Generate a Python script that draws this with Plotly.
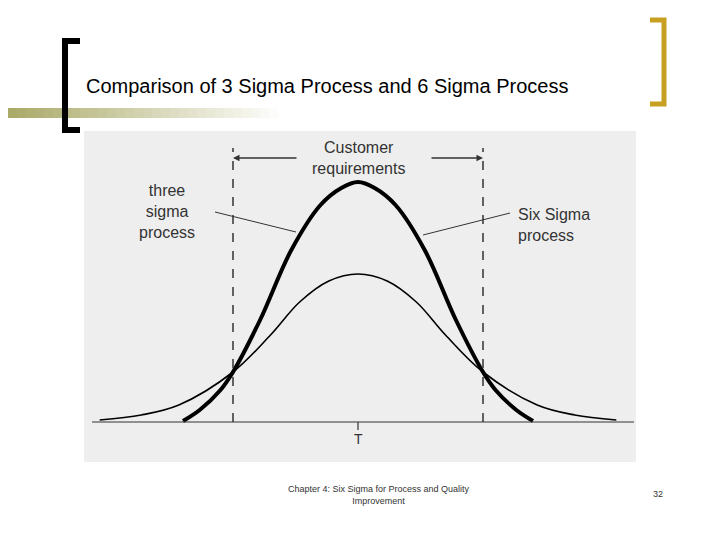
import plotly.graph_objects as go

# data (x in sigma units of the three-sigma process, y in relative height)
thin_x = [-6.2, -5.2, -4.3, -3.0, -2.1, -1.4, -0.7, 0, 0.7, 1.4, 2.1, 3.0, 4.3, 5.2, 6.2]
thin_y = [2, 7, 17, 50, 87, 120, 141, 148, 141, 120, 87, 50, 17, 7, 2]
thick_x = [-4.2, -3.8, -3.3, -3.0, -2.35, -1.6, -0.9, -0.4, 0, 0.4, 0.9, 1.6, 2.35, 3.0, 3.3, 3.8, 4.2]
thick_y = [1, 12, 32, 50, 102, 172, 217, 234, 240, 234, 217, 172, 102, 50, 32, 12, 1]
spec_limits = [-3, 3]

W, H = 720, 540
OFF = 8
def px(x): return (x - OFF) / W
def py(y): return 1 - (y - OFF) / H
PXU = 125 / 3.0
def ux(p): return (p - 358) / PXU
def uy(p): return 422 - p

fig = go.Figure()
fig.add_trace(go.Scatter(x=thin_x, y=thin_y, mode="lines", line=dict(color="black", width=1.6, shape="spline")))
fig.add_trace(go.Scatter(x=thick_x, y=thick_y, mode="lines", line=dict(color="black", width=4, shape="spline")))

shapes = []
for s in spec_limits:
    shapes.append(dict(type="line", xref="x", yref="y", x0=s, x1=s, y0=0, y1=uy(148), line=dict(color="#333", width=1.5, dash="dash")))
shapes.append(dict(type="line", xref="x", yref="y", x0=ux(92), x1=ux(634), y0=0, y1=0, line=dict(color="#333", width=1.2)))
shapes.append(dict(type="line", xref="x", yref="y", x0=0, x1=0, y0=0, y1=uy(430), line=dict(color="#333", width=1.2)))
shapes.append(dict(type="line", xref="x", yref="y", x0=ux(215), x1=ux(296), y0=uy(212), y1=uy(232), line=dict(color="#333", width=1)))
shapes.append(dict(type="line", xref="x", yref="y", x0=ux(423), x1=ux(510), y0=uy(235), y1=uy(213), line=dict(color="#333", width=1)))
# slide decorations
N = 30
for i in range(N):
    shapes.append(dict(type="rect", xref="paper", yref="paper", x0=px(OFF + i*9), x1=px(OFF + i*9 + 9), y0=py(118), y1=py(108),
                       fillcolor="rgb(170,170,105)", opacity=max(0.0, 1 - i/N), line=dict(width=0), layer="below"))
shapes.append(dict(type="path", xref="paper", yref="paper",
                   path=f"M {px(80)},{py(41)} L {px(65)},{py(41)} L {px(65)},{py(130)} L {px(80)},{py(130)}",
                   line=dict(color="black", width=6)))
shapes.append(dict(type="path", xref="paper", yref="paper",
                   path=f"M {px(650)},{py(20)} L {px(664)},{py(20)} L {px(664)},{py(104)} L {px(650)},{py(104)}",
                   line=dict(color="#c8a020", width=5)))
fig.update_layout(shapes=shapes)

ann = [
    dict(x=0, y=uy(158), xref="x", yref="y", text="Customer<br>requirements", showarrow=False, font=dict(size=16, color="#333")),
    dict(x=ux(167), y=uy(211), xref="x", yref="y", text="three<br>sigma<br>process", showarrow=False, font=dict(size=16, color="#333")),
    dict(x=ux(516), y=uy(225), xref="x", yref="y", xanchor="left", align="left", text="Six Sigma<br>process", showarrow=False, font=dict(size=16, color="#333")),
    dict(x=0, y=uy(439), xref="x", yref="y", text="T", showarrow=False, font=dict(size=14, color="#333")),
    dict(x=-3, y=uy(158), ax=ux(298), ay=uy(158), xref="x", yref="y", axref="x", ayref="y", text="", showarrow=True, arrowhead=2, arrowwidth=1.3, arrowcolor="#333"),
    dict(x=3, y=uy(158), ax=ux(430), ay=uy(158), xref="x", yref="y", axref="x", ayref="y", text="", showarrow=True, arrowhead=2, arrowwidth=1.3, arrowcolor="#333"),
    dict(x=px(84), y=py(73), xref="paper", yref="paper", xanchor="left", text="Comparison of 3 Sigma Process and 6 Sigma Process", showarrow=False, font=dict(size=20, color="black")),
    dict(x=px(379), y=py(508), xref="paper", yref="paper", text="Chapter 4: Six Sigma for Process and Quality<br>Improvement", showarrow=False, font=dict(size=9, color="#333")),
    dict(x=px(665), y=py(501), xref="paper", yref="paper", text="32", showarrow=False, font=dict(size=9, color="#333")),
]
fig.update_layout(annotations=ann)

fig.update_layout(
    width=W, height=H, margin=dict(l=0, r=0, t=0, b=0), showlegend=False,
    paper_bgcolor="white", plot_bgcolor="#eeeeee", font=dict(family="Liberation Sans, Arial"),
    xaxis=dict(domain=[px(84), px(636)], range=[ux(84), ux(636)], visible=False, fixedrange=True),
    yaxis=dict(domain=[py(462), py(131)], range=[uy(462), uy(131)], visible=False, fixedrange=True),
)
fig.write_html("out.html")
